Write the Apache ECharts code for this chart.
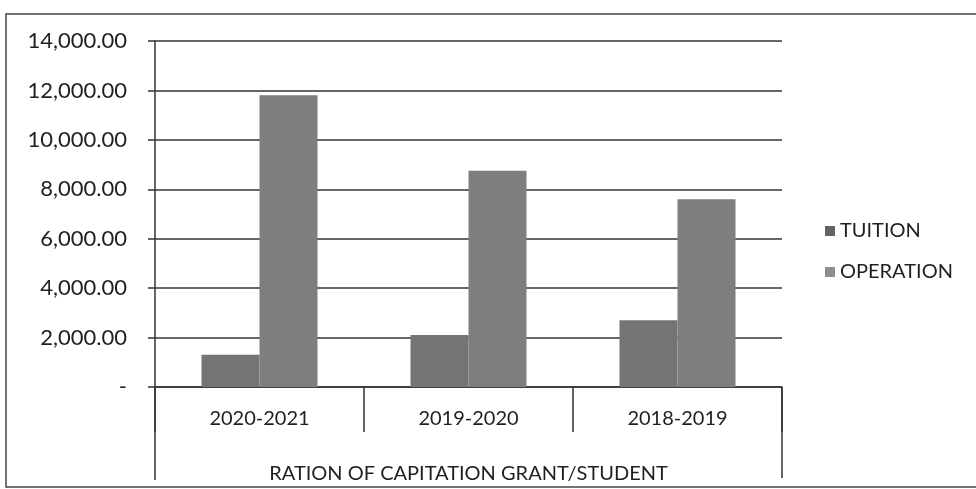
<!DOCTYPE html>
<html>
<head>
<meta charset="utf-8">
<script src="https://cdn.jsdelivr.net/npm/echarts@6/dist/echarts.min.js"></script>
<style>
html,body{margin:0;padding:0;background:#fff;}
#chart{width:976px;height:489px;}
</style>
</head>
<body>
<div id="chart"></div>
<script>
var categories = ['2020-2021', '2019-2020', '2018-2019'];
var tuition = [1300, 2100, 2700];
var operation = [11800, 8750, 7600];
var seriesNames = ['TUITION', 'OPERATION'];
var axisTitle = 'RATION OF CAPITATION GRANT/STUDENT';

var FONT = 'Lato';
var TXT = '#1f1f1f';
var LINE = '#333333';

var chart = echarts.init(document.getElementById('chart'));
var grid = {left: 155, right: 194, top: 41, bottom: 101};

function fmt(v) {
  if (v === 0) return '-';
  return v.toLocaleString('en-US', {minimumFractionDigits: 2, maximumFractionDigits: 2});
}

chart.setOption({
  backgroundColor: '#ffffff',
  animation: false,
  grid: grid,
  legend: {
    orient: 'vertical',
    left: 820,
    top: 216,
    itemWidth: 10,
    itemHeight: 10,
    itemGap: 21,
    icon: 'rect',
    textStyle: {fontFamily: FONT, fontSize: 20, color: TXT},
    data: [
      {name: seriesNames[0], itemStyle: {color: '#646466'}},
      {name: seriesNames[1], itemStyle: {color: '#8e8e90'}}
    ]
  },
  xAxis: {
    type: 'category',
    data: categories,
    boundaryGap: true,
    axisLine: {show: true, lineStyle: {color: LINE, width: 1.5}},
    axisTick: {show: true, length: 45, lineStyle: {color: LINE, width: 1.5}},
    axisLabel: {margin: 22, fontFamily: FONT, fontSize: 20, color: TXT},
    name: axisTitle,
    nameLocation: 'middle',
    nameGap: 77,
    nameTextStyle: {fontFamily: FONT, fontSize: 20, color: TXT}
  },
  yAxis: {
    type: 'value',
    min: 0,
    max: 14000,
    interval: 2000,
    axisLine: {show: true, lineStyle: {color: LINE, width: 1.5}},
    axisTick: {show: true, length: 7, lineStyle: {color: LINE, width: 1.5}},
    splitLine: {show: true, lineStyle: {color: LINE, width: 1.5}},
    axisLabel: {margin: 28, fontFamily: FONT, fontSize: 22, color: TXT, formatter: fmt}
  },
  series: [
    {
      name: seriesNames[0], type: 'bar', data: tuition,
      barWidth: 58, barGap: '0%',
      itemStyle: {color: '#747476'}
    },
    {
      name: seriesNames[1], type: 'bar', data: operation,
      barWidth: 58, barGap: '0%',
      itemStyle: {color: '#7e7e81'}
    }
  ]
});

// decorative frame lines, positioned from the grid rectangle
var gl = grid.left, gr = 976 - grid.right, gb = 489 - grid.bottom;
chart.setOption({
  graphic: [
    {type: 'rect', silent: true, shape: {x: 6, y: 14, width: 1000, height: 473},
     style: {fill: null, stroke: '#444', lineWidth: 1.5}},
    {type: 'line', silent: true, shape: {x1: gl, y1: gb, x2: gl, y2: gb + 92},
     style: {stroke: LINE, lineWidth: 1.5}},
    {type: 'line', silent: true, shape: {x1: gr, y1: gb, x2: gr, y2: gb + 90},
     style: {stroke: LINE, lineWidth: 1.5}}
  ]
});
</script>
</body>
</html>
